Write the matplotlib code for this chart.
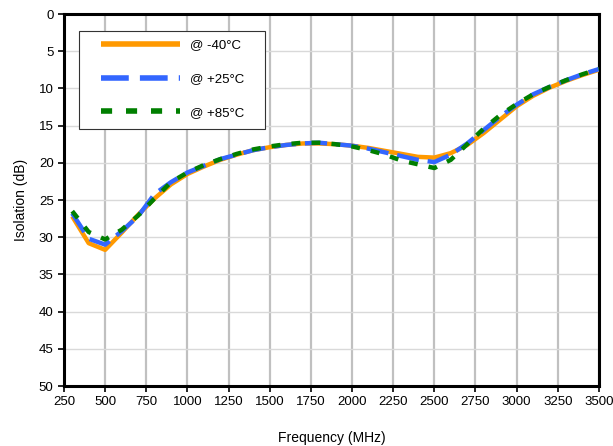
import matplotlib
matplotlib.use('Agg')
import matplotlib.pyplot as plt
from matplotlib.patches import Rectangle
import numpy as np

plt.rcParams['font.family'] = ['Liberation Sans', 'DejaVu Sans']

freq = [300, 400, 500, 600, 700, 800, 900, 1000, 1100, 1200, 1300, 1400,
        1500, 1600, 1700, 1800, 1900, 2000, 2100, 2200, 2300, 2400, 2500,
        2600, 2700, 2800, 2900, 3000, 3100, 3200, 3300, 3400, 3500]

iso_m40 = [27.2, 30.8, 31.7, 29.4, 27.0, 24.8, 22.9, 21.5, 20.5, 19.6, 18.9, 18.3,
           17.9, 17.6, 17.4, 17.4, 17.5, 17.7, 18.0, 18.4, 18.8, 19.2, 19.3,
           18.7, 17.6, 16.0, 14.2, 12.4, 11.0, 9.9, 9.0, 8.2, 7.5]
iso_p25 = [26.8, 30.2, 31.0, 29.2, 27.2, 24.2, 22.6, 21.3, 20.4, 19.5, 18.9, 18.3,
           17.9, 17.6, 17.4, 17.3, 17.5, 17.7, 18.1, 18.6, 19.1, 19.6, 19.9,
           18.9, 17.4, 15.6, 13.8, 12.2, 10.8, 9.8, 8.9, 8.1, 7.4]
iso_p85 = [26.5, 29.3, 30.3, 29.0, 27.1, 24.8, 22.6, 21.3, 20.3, 19.5, 18.8, 18.2,
           17.8, 17.5, 17.3, 17.3, 17.5, 17.8, 18.3, 18.9, 19.7, 20.2, 20.7,
           19.6, 17.5, 15.4, 13.6, 12.1, 10.8, 9.8, 8.9, 8.1, 7.4]

labels = ['@ -40\u00b0C', '@ +25\u00b0C', '@ +85\u00b0C']

fig = plt.figure(figsize=(6.13, 4.46), dpi=100)
ax = fig.add_axes([0.1044, 0.1345, 0.8726, 0.8341])

ax.plot(freq, iso_m40, color='#ff9900', lw=3.2, solid_capstyle='butt', label=labels[0], zorder=3)
ax.plot(freq, iso_p25, color='#3366ff', lw=3.2, dashes=(5, 2), label=labels[1], zorder=4)
ax.plot(freq, iso_p85, color='#007f00', lw=3.2, dashes=(2, 2.5), label=labels[2], zorder=5)

ax.set_xlim(250, 3500)
ax.set_ylim(50, 0)
ax.set_xticks(np.arange(250, 3501, 250))
ax.set_yticks(np.arange(0, 51, 5))

ax.grid(axis='x', color='#c0c0c0', lw=1.6)
ax.grid(axis='y', color='#d9d9d9', lw=1.0)
ax.set_axisbelow(True)

for s in ax.spines.values():
    s.set_linewidth(2.2)
    s.set_color('black')

ax.tick_params(axis='both', labelsize=9.5, length=4, width=1.2, colors='black')
ax.set_xlabel('Frequency (MHz)', fontsize=10, labelpad=16)
ax.set_ylabel('Isolation (dB)', fontsize=10, labelpad=8)

# legend box drawn separately so its padding can match the original
ax.add_patch(Rectangle((0.028, 0.691), 0.348, 0.263, transform=ax.transAxes,
                       facecolor='white', edgecolor='#333333', lw=0.8, zorder=6))
leg = ax.legend(loc='upper left', bbox_to_anchor=(0.069, 0.932), borderaxespad=0,
                fontsize=9.5, frameon=False, handlelength=6.0,
                labelspacing=1.62, borderpad=0, handletextpad=0.75)
leg.set_zorder(7)
for h in leg.get_lines():
    h.set_linewidth(4)

fig.savefig('out.png', dpi=100)
